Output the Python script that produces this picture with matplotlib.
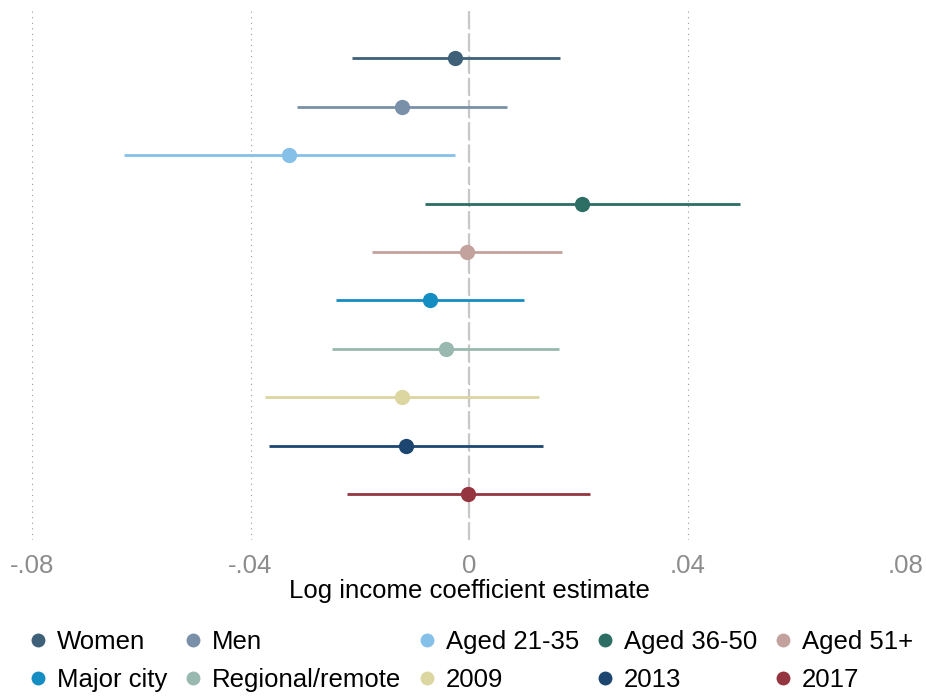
"""Coefficient plot: log income estimates with 95% CIs by subgroup."""

import matplotlib
matplotlib.use("Agg")
import matplotlib.pyplot as plt
from matplotlib.lines import Line2D

plt.rcParams["font.family"] = ["Liberation Sans", "DejaVu Sans"]

GROUPS = ["Women", "Men", "Aged 21-35", "Aged 36-50", "Aged 51+",
          "Major city", "Regional/remote", "2009", "2013", "2017"]
ESTIMATES = [-0.0025, -0.0123, -0.0329, 0.0207, -0.0003,
             -0.0072, -0.0043, -0.0122, -0.0115, -0.0001]
CI_LOW = [-0.0214, -0.0315, -0.0632, -0.0081, -0.0178,
          -0.0243, -0.0251, -0.0373, -0.0366, -0.0223]
CI_HIGH = [0.0167, 0.0070, -0.0026, 0.0497, 0.0171,
           0.0100, 0.0165, 0.0128, 0.0135, 0.0222]
COLORS = ["#3e6179", "#7a90a8", "#85c0e9", "#2c6e63", "#c3a29e",
          "#138dc2", "#98b8b0", "#dcd6a0", "#1c4670", "#943540"]

X_TICKS = [-0.08, -0.04, 0.0, 0.04, 0.08]
X_TICK_LABELS = ["-.08", "-.04", "0", ".04", ".08"]

FONT = 18.5

fig = plt.figure(figsize=(9.26, 6.96), dpi=100)
ax = fig.add_axes([32 / 926, 1 - 540 / 696, 874 / 926, 530 / 696])

ypos = list(range(len(GROUPS)))

ax.axvline(0, color="#c8c8c8", linewidth=1.6, dashes=(8, 2), zorder=1)
for y, est, lo, hi, col in zip(ypos, ESTIMATES, CI_LOW, CI_HIGH, COLORS):
    ax.hlines(y, lo, hi, color=col, linewidth=2.0, zorder=3)
    ax.plot(est, y, "o", color=col, markersize=11, markeredgewidth=0, zorder=4)

ax.set_xlim(-0.08, 0.08)
ax.set_ylim(9.95, -1.0)
ax.set_xticks(X_TICKS)
ax.set_xticklabels(X_TICK_LABELS, fontsize=FONT, color="#8c8c8c")
ax.set_yticks([])
ax.tick_params(axis="x", length=0, pad=10)
ax.xaxis.grid(True, color="#9a9a9a", linewidth=0.8, linestyle=(0, (1, 4)))
ax.set_axisbelow(True)
for side in ax.spines.values():
    side.set_visible(False)
ax.set_xlabel("Log income coefficient estimate", fontsize=FONT, labelpad=1)

# legend laid out column by column: each column holds one pair of groups
order = [0, 5, 1, 6, 2, 7, 3, 8, 4, 9]
handles = [Line2D([], [], marker="o", linestyle="none", color=COLORS[i],
                  markersize=10, markeredgewidth=0, label=GROUPS[i]) for i in order]
fig.legend(handles=handles, ncol=5, loc="upper left",
           bbox_to_anchor=(25 / 926, 1 - 630 / 696), frameon=False,
           fontsize=FONT, handlelength=1.0, handletextpad=0.24,
           columnspacing=0.5, labelspacing=0.54, borderpad=0, borderaxespad=0)

fig.savefig("out.png", dpi=100)
